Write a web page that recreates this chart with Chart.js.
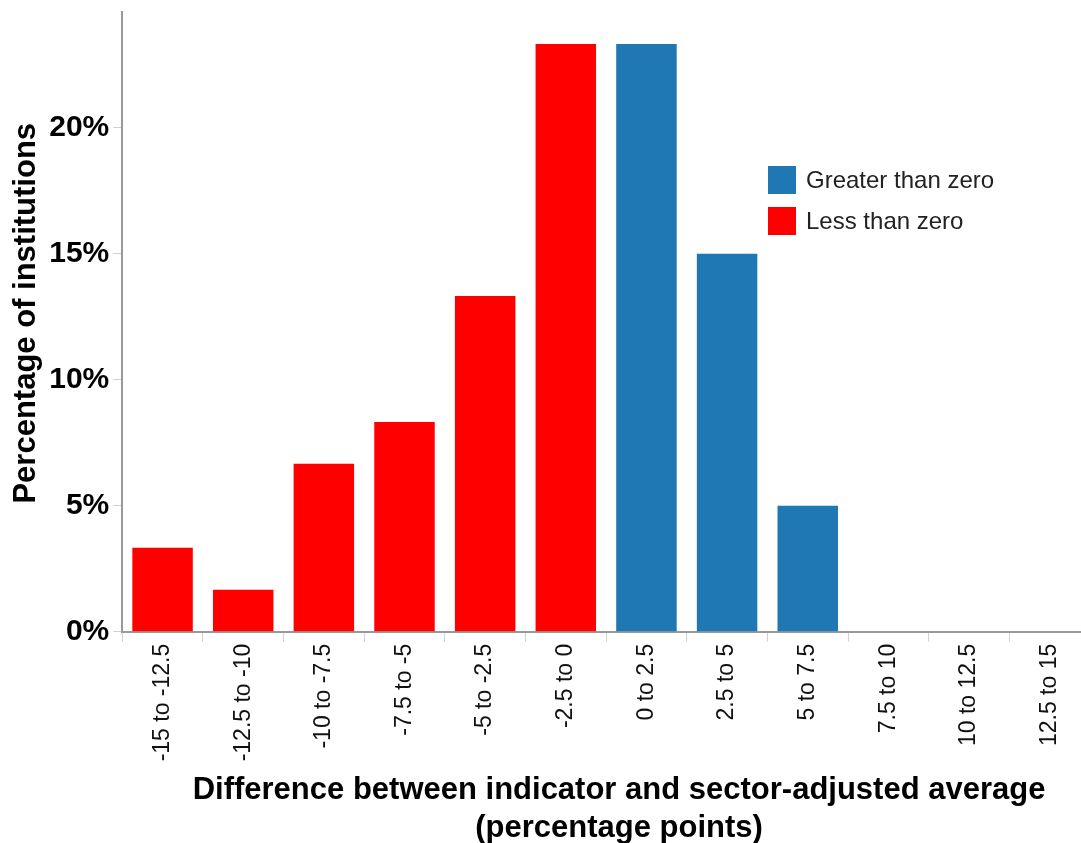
<!DOCTYPE html>
<html lang="en">
<head>
    <meta charset="UTF-8">
    <title>Difference between indicator and sector-adjusted average</title>
    <script src="https://cdn.jsdelivr.net/npm/chart.js"></script>
    <style>
        html, body { margin: 0; padding: 0; background: #fff; overflow: hidden; }
        canvas { display: block; }
    </style>
</head>
<body>
    <canvas id="chart" width="1090" height="843"></canvas>
    <script>
        // Bins of the difference (percentage points)
        const categories = ['-15 to -12.5', '-12.5 to -10', '-10 to -7.5', '-7.5 to -5', '-5 to -2.5', '-2.5 to 0',
                            '0 to 2.5', '2.5 to 5', '5 to 7.5', '7.5 to 10', '10 to 12.5', '12.5 to 15'];
        // Percentage of institutions in each bin
        const greaterThanZero = [null, null, null, null, null, null, 23.33, 15, 5, 0, 0, 0];
        const lessThanZero = [3.33, 1.67, 6.67, 8.33, 13.33, 23.33, null, null, null, null, null, null];
        const yTicks = [0, 5, 10, 15, 20];

        const BLUE = '#1f77b4';
        const RED = '#ff0000';
        const FONT = 'Liberation Sans, Arial, sans-serif';
        const NB = '\u00a0\u00a0\u00a0'; // nudges the axis titles a little off-centre, as in the original

        // Legend drawn inside the plot area, top right
        const insideLegend = {
            id: 'insideLegend',
            afterDatasetsDraw(chart) {
                const ctx = chart.ctx;
                const x = 768, y0 = 166, box = 28, gap = 41;
                ctx.save();
                ctx.font = '24px ' + FONT;
                ctx.textBaseline = 'middle';
                chart.data.datasets.forEach((ds, i) => {
                    const y = y0 + i * gap;
                    ctx.fillStyle = ds.backgroundColor;
                    ctx.fillRect(x, y, box, box);
                    ctx.fillStyle = '#222';
                    ctx.fillText(ds.label, x + box + 10, y + box / 2 + 1);
                });
                ctx.restore();
            }
        };

        new Chart(document.getElementById('chart'), {
            type: 'bar',
            data: {
                labels: categories,
                datasets: [
                    { label: 'Greater than zero', data: greaterThanZero, backgroundColor: BLUE },
                    { label: 'Less than zero', data: lessThanZero, backgroundColor: RED }
                ]
            },
            options: {
                responsive: false,
                animation: false,
                layout: { padding: { top: 12, left: 8, right: 0, bottom: -4 } },
                datasets: { bar: { barPercentage: 0.75, categoryPercentage: 1 } },
                plugins: {
                    legend: { display: false },
                    tooltip: { enabled: false }
                },
                scales: {
                    x: {
                        stacked: true,
                        grid: { drawOnChartArea: false, color: '#d0d0d0', tickLength: 10 },
                        border: { color: '#999', width: 2 },
                        ticks: {
                            color: '#111',
                            font: { family: FONT, size: 23 },
                            minRotation: 90,
                            maxRotation: 90,
                            autoSkip: false,
                            padding: 2
                        },
                        title: {
                            display: true,
                            text: [NB + 'Difference between indicator and sector-adjusted average', NB + '(percentage points)'],
                            color: '#000',
                            font: { family: FONT, size: 31, weight: 'bold', lineHeight: 1.22 },
                            padding: { top: 8, bottom: 0 }
                        }
                    },
                    y: {
                        stacked: true,
                        min: 0,
                        max: 24.6,
                        afterBuildTicks(axis) {
                            axis.ticks = yTicks.map(v => ({ value: v }));
                        },
                        // top tick (20%) is well below the axis end, so no room is needed above
                        afterFit(axis) {
                            axis.paddingTop = 0;
                        },
                        grid: { drawOnChartArea: false, color: '#d0d0d0', tickLength: 9 },
                        border: { color: '#999', width: 2 },
                        ticks: {
                            color: '#000',
                            font: { family: FONT, size: 30, weight: 'bold' },
                            padding: 4,
                            callback: v => v + '%'
                        },
                        title: {
                            display: true,
                            text: '\u00a0\u00a0Percentage of institutions',
                            color: '#000',
                            font: { family: FONT, size: 31, weight: 'bold' },
                            padding: { top: 0, bottom: 0 }
                        }
                    }
                }
            },
            plugins: [insideLegend]
        });
    </script>
</body>
</html>
